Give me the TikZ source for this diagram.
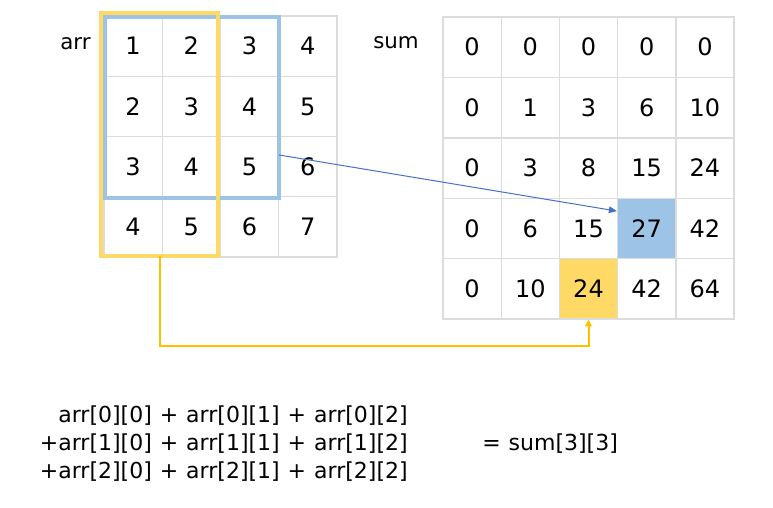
\documentclass[tikz,border=0pt]{standalone}
\usepackage{fontspec}
\setmainfont{DejaVu Sans}
\usepackage{xcolor}
\usetikzlibrary{positioning,arrows.meta}
\definecolor{gridgray}{HTML}{DCDCDC}
\definecolor{winblue}{HTML}{9DC3E6}
\definecolor{winyellow}{HTML}{FFD966}
\definecolor{linkblue}{HTML}{4472C4}
\definecolor{linkyellow}{HTML}{FFC000}
\newcommand{\pls}{\hspace{6pt}+\hspace{6pt}}
\tikzset{
  cell/.style={draw=gridgray, line width=1pt, minimum width=43.7pt,
    minimum height=45.25pt, inner sep=0pt, text height=13.1pt, text depth=0pt,
    font=\fontsize{18}{21}\selectfont},
  hl33/.style={fill=winblue},
  hl42/.style={fill=winyellow},
  lbl/.style={inner sep=0pt, font=\fontsize{16}{19}\selectfont},
  expr/.style={inner sep=0pt, font=\fontsize{16.5}{20}\selectfont},
  win/.style={draw, line width=3pt, inner sep=0pt, outer sep=0pt},
}

\begin{document}
\begin{tikzpicture}[x=0.75pt,y=-0.75pt]
  \fill[white] (0,0) rectangle (773,507);
  % arr table
  \foreach \row [count=\r from 0] in {{1,2,3,4},{2,3,4,5},{3,4,5,6},{4,5,6,7}}
    \foreach \v [count=\c from 0] in \row
      \node[cell] (arr\r\c) at ({133.1+58.25*\c},{46.1+60.25*\r}) {\v};
  % sum table
  \foreach \row [count=\r from 0] in {{0,0,0,0,0},{0,1,3,6,10},{0,3,8,15,24},{0,6,15,27,42},{0,10,24,42,64}}
    \foreach \v [count=\c from 0] in \row
      \node[cell, hl\r\c/.try] (sum\r\c) at ({472.1+58.2*\c},{47.2+60.4*\r}) {\v};
  \node[lbl, anchor=base west] (arrlbl) at (60,49) {arr};
  \node[lbl, anchor=base west] (sumlbl) at (373,48) {sum};
  % windows
  \node[win, draw=winblue, minimum width=130.5pt, minimum height=135.75pt] (bwin) at (192,107.5) {};
  \node[win, draw=winyellow, minimum width=87.75pt, minimum height=182.25pt] (ywin) at (159.5,134.5) {};
  % links
  \draw[linkblue, line width=0.75pt, -{Triangle[length=6pt,width=5pt]}]
    ([yshift=-35.6pt]bwin.east) -- ([yshift=13pt]sum33.west);
  \draw[linkyellow, line width=1.5pt, -{Triangle[length=5pt,width=5pt]}]
    (ywin.south) -- ++(0,90) -| (sum42.south);
  % formula
  \node[expr, anchor=base east] (lhs1) at (408,422) {arr[0][0]\pls arr[0][1]\pls arr[0][2]};
  \node[expr, anchor=base east] (lhs2) at (408,450) {+arr[1][0]\pls arr[1][1]\pls arr[1][2]};
  \node[expr, anchor=base east] (lhs3) at (408,478) {+arr[2][0]\pls arr[2][1]\pls arr[2][2]};
  \node[expr, anchor=base west] (rhs) at (482,450) {=\hspace{6pt}sum[3][3]};
\end{tikzpicture}
\end{document}
